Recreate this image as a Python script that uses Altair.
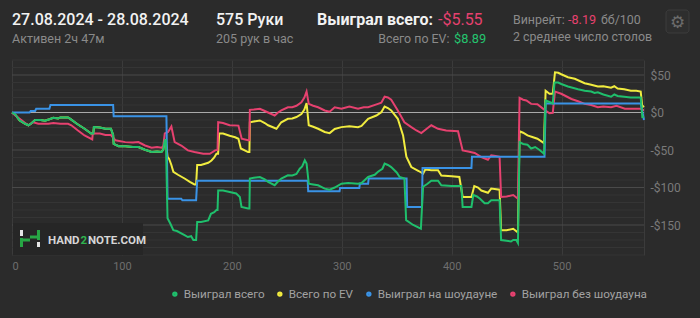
import altair as alt
import pandas as pd

# ---------------- data ----------------
series_names = ["Выиграл всего", "Всего по EV", "Выиграл на шоудауне", "Выиграл без шоудауна"]
series_colors = ["#1fbf6c", "#f1ec3f", "#3a93e6", "#e6416f"]

green_h = [0, 3, 7, 12, 15, 18, 21, 26, 30, 34, 37.6, 42, 44, 51, 53, 59, 66, 72, 74, 74.5, 80, 85, 90, 92, 92.5,
           97, 103, 110, 115, 121, 127, 132, 136, 137.6, 139, 140, 141.5, 144, 146.8, 150, 157, 160, 163, 165,
           167.5, 168.5, 172, 178.5, 181, 184, 186, 187, 187.6, 192, 198, 204, 207.3, 208.8, 214.8, 216, 216.4,
           220, 225.5, 230, 233, 239, 242, 245, 251, 255, 258.8, 261.8, 264, 266.4, 268, 270, 274, 278.5, 284.5,
           289, 293.6, 299.7, 305.8, 314.8, 318, 324, 330, 333, 337, 339, 342, 345, 350, 352.7, 357, 358.6, 365,
           372, 374, 378, 381.5, 387.6, 390.6, 400, 408.8, 410, 418, 419.7, 423, 425.8, 430, 433, 436, 443.6, 445,
           450, 454, 456, 458.8, 460.3, 461.8, 465, 469, 472.3, 476, 480, 484, 485.5, 489, 492, 493.6, 497, 499.7,
           505.8, 510, 515, 521, 527, 530, 533, 538, 545, 548, 551, 557, 563, 568, 572, 573.5, 575]
green_v = [0, -3, -10.6, -15, -17, -14, -10, -10, -11, -9, -7, -8, -6.5, -6.5, -8.5, -15, -21.7, -28, -28, -19.5,
           -20, -21.7, -21.7, -30, -41.7, -45, -45, -46, -46, -49.6, -52.7, -52, -52.7, -49.6, -37, -37, -141, -148,
           -157, -158, -163.5, -166, -165, -170, -170, -146, -146, -144, -135, -133, -130, -130, -104, -104, -106,
           -108, -112.6, -126, -128, -128, -88, -87, -86, -89, -92.6, -97, -92, -88, -83.8, -84, -82, -75, -72,
           -63.8, -68, -95, -96, -97, -101.5, -103, -100, -95, -94, -95, -94, -86, -83, -79, -75, -68, -70, -72.7,
           -80, -86, -88, -143.6, -150, -155, -99, -95, -91, -91, -97, -98, -98, -126, -126, -110, -112, -115, -121,
           -121, -117, -117, -170, -171, -172, -170, -170, -174, -39.5, -42, -43, -48, -46, -50, -55, 16, 14, 12, 40,
           40, 38, 34.6, 33, 31, 29, 28, 26, 27, 24, 21, 24, 22, 21, 20, 20, 20, -6, -5.55]

yellow_h = [0, 3, 7, 12, 15, 18, 21, 26, 30, 34, 37.6, 42, 44, 51, 53, 59, 66, 72, 74, 74.5, 80, 85, 90, 92, 92.5,
            97, 103, 110, 115, 121, 127, 132, 136, 137.6, 139, 140, 141.5, 143, 145, 146.8, 151, 157, 161.8, 166,
            167.5, 168.5, 172, 178.5, 181.5, 184, 186, 187.5, 188.5, 192, 198, 203, 206, 208.2, 214.8, 216, 216.4,
            220, 225.5, 230, 233, 240.6, 245, 251, 255, 258.8, 263.3, 266, 268, 270, 274, 278.5, 284.5, 289, 293.6,
            299.7, 307, 314.8, 318, 324, 331.5, 336, 339, 342, 345, 351, 355.8, 358.8, 363.3, 370, 374, 376, 381.5,
            387.6, 390.6, 400, 407, 410, 418, 420.6, 424, 427, 433, 436, 443.6, 445, 450, 456, 460.3, 461.8, 465,
            469, 474, 478, 484, 485.5, 489, 492, 494, 497, 499.7, 505.8, 512, 521, 527, 533, 538, 545, 548, 551, 557,
            563, 568, 572, 573.5, 575]
yellow_v = [0, -3, -10.6, -15, -17, -14, -10, -10, -11, -9, -7, -8, -6.5, -6.5, -8.5, -15, -21.7, -28, -28, -19.5,
            -20, -21.7, -21.7, -30, -41.7, -45, -45, -46, -46, -49.6, -52.7, -52, -52.7, -49.6, -37, -37, -59, -62,
            -70, -79, -83, -88, -92.6, -96, -96, -70, -70, -67, -64, -60, -55, -55, -28, -28, -31, -33, -35, -48,
            -52.7, -52.7, -13, -12, -10.6, -14, -17, -21.7, -13, -8.4, -8, -6, -2, 4, 12.4, -17, -19, -21.7, -26,
            -27.5, -22, -19.5, -18.5, -19.5, -18, -8.4, -4, 0.4, 8, 6, 2.7, -8.4, -30.6, -59, -72.7, -78, -81.6,
            -76, -77, -77, -84, -85, -86, -112.6, -112.6, -98, -100, -104, -107, -101.5, -103, -157, -157, -155,
            -160, -25, -27, -30.6, -33, -35, -40.8, 29, 25, 25, 53.6, 53, 51, 47, 45, 39, 37, 34.6, 35, 33, 35, 32,
            31, 29, 29, 28, 7, 8.89]

blue_h = [0, 16, 17, 21, 22, 34, 35, 92, 92.5, 140.5, 141.5, 154, 155, 167.5, 168.5, 269, 269.5, 298, 298.5, 316,
          316.5, 324, 324.5, 359, 359.5, 373, 373.5, 418, 418.5, 484.5, 485.5, 572, 575]
blue_v = [0, 0, 2, 2, 5, 5, 10, 10, -5, -5, -115, -115, -117, -117, -91, -91, -105, -105, -100.5, -100.5, -95, -95,
          -88, -88, -126, -126, -74, -74, -59, -59, 12, 12, -10]

pink_h = [0, 3, 7, 12, 15, 19.4, 24, 30, 33, 37.6, 44, 51, 54, 60, 66, 73, 73.5, 80, 85, 90, 94, 103, 110, 115, 121,
          127, 132, 136, 137.6, 139, 142, 145, 148, 154, 160, 166, 174, 180, 184.8, 187, 187.6, 192, 198, 206, 209,
          214.8, 216, 216.4, 220, 225.5, 230, 233, 239, 242, 245, 251, 255, 258.8, 263.3, 266, 268, 270, 274, 278.5,
          284.5, 289, 293.6, 299.7, 307, 314.8, 320, 324, 333, 336, 339, 342, 345, 351, 357, 363.3, 368, 372.4, 377,
          381.5, 387.6, 395, 405.8, 410, 415, 421, 427, 433, 436, 440, 443.6, 445, 450, 456, 460.3, 461.8, 465, 468,
          472.3, 478, 484.5, 489, 492, 494, 499.7, 505, 509, 515, 521, 527, 533, 538, 545, 550, 557.6, 565, 572,
          573.5, 575]
pink_v = [0, -4, -8.4, -14, -17, -13, -15, -15, -15, -14, -15, -15, -17, -24, -30.6, -36, -28, -28, -30, -30, -37,
          -39.5, -40, -39.5, -44, -47, -46, -47, -45, -28, -26, -18.6, -39.5, -44, -50.5, -52.7, -55, -55, -50.5, -50,
          -13, -14, -17, -17.5, -35, -37, -37, 3.5, 4, 5, 2, 0, -4, 0, 2.7, 7, 7, 9, 13.7, 20, 28, 11.5, 9, 7, 2.7,
          1, 7, 5, 8, 5, 7, 7, 11.5, 13, 21, 20, 17, 2.7, -13, -19.5, -24, -27.5, -22, -17, -21.7, -24, -25, -50.5,
          -52, -54, -59.4, -63, -57, -58, -59, -112.6, -112, -110, -115, 19.5, 17, 16, 11.5, 11, 3.5, -1, -0.5, 28,
          25, 21, 18, 15, 11.5, 10, 7, 8, 7, 9, 5, 5, 5, 3.5, 3.5]

x_ticks = [0, 100, 200, 300, 400, 500, 575]
y_ticks = [-150, -100, -50, 0, 50]
grid_major = [-150, -100, -50, 50]
grid_minor = [-190, -180, -170, -160, -140, -130, -120, -110, -90, -80, -70, -60, -40, -30, -20, -10,
              10, 20, 30, 40, 60, 70]

header = {
    "date": "27.08.2024 - 28.08.2024",
    "active": "Активен 2ч 47м",
    "hands": "575 Руки",
    "rate": "205 рук в час",
    "won_lbl": "Выиграл всего:",
    "won_val": "-$5.55",
    "ev_lbl": "Всего по EV:",
    "ev_val": "$8.89",
    "wr_lbl": "Винрейт:",
    "wr_val": "-8.19",
    "wr_unit": "бб/100",
    "tables": "2 среднее число столов",
    "brand_a": "HAND",
    "brand_b": "2",
    "brand_c": "NOTE.COM",
}

# ---------------- geometry ----------------
W, H = 632, 195
OX, OY = 12, 60
FONT = "Roboto"

xs = alt.Scale(domain=[0, 575], nice=False, zero=False)
ys = alt.Scale(domain=[-190, 70], nice=False, zero=False)
cs = alt.Scale(domain=series_names, range=series_colors)

X_AXIS = alt.Axis(values=x_ticks, labelExpr="datum.value == 575 ? '' : datum.label",
                  grid=True, gridColor="#3b3b3b", gridWidth=1, domain=False, ticks=False,
                  labelColor="#6e6e6e", labelFontSize=11, labelFont=FONT, labelPadding=5, title=None)
Y_AXIS = alt.Axis(values=y_ticks, orient="right", grid=False, domain=False, ticks=False,
                  labelExpr="datum.value < 0 ? '-$' + abs(datum.value) : '$' + datum.value",
                  labelColor="#7a7a7a", labelFontSize=12, labelFont=FONT, labelPadding=6, title=None)
LEGEND = alt.Legend(title=None, orient="none", legendX=157, legendY=228, direction="horizontal",
                    padding=0, symbolType="circle", symbolSize=9, symbolStrokeWidth=2.4, labelOffset=3,
                    columnPadding=8, labelColor="#a2a2a2", labelFontSize=11.7, labelFont=FONT)


def series_df(name, h, v):
    return pd.DataFrame({"hand": h, "value": v, "series": name})


def line_layer(name, h, v):
    return alt.Chart(series_df(name, h, v)).mark_line(strokeWidth=2, interpolate="linear").encode(
        x=alt.X("hand:Q", scale=xs, axis=X_AXIS),
        y=alt.Y("value:Q", scale=ys, axis=Y_AXIS),
        color=alt.Color("series:N", scale=cs, sort=series_names, legend=LEGEND),
    )


def grid_layer(vals, color, width=1):
    return alt.Chart(pd.DataFrame({"g": vals})).mark_rule(color=color, strokeWidth=width).encode(
        y=alt.Y("g:Q", scale=ys, axis=Y_AXIS))


def txt(s, x, y, size, color, weight="normal", align="left", font=FONT):
    return alt.Chart(pd.DataFrame({"t": [s]})).mark_text(
        align=align, baseline="alphabetic", fontSize=size, font=font, color=color, fontWeight=weight
    ).encode(x=alt.value(x - OX), y=alt.value(y - OY), text="t:N")


def deco_rule(x1, y1, x2, y2, color, width):
    return alt.Chart(pd.DataFrame({"d": [0]})).mark_rule(color=color, strokeWidth=width).encode(
        x=alt.value(x1 - OX), x2=alt.value(x2 - OX), y=alt.value(y1 - OY), y2=alt.value(y2 - OY))


grid = grid_layer(grid_minor, "#353535") + grid_layer(grid_major, "#4a4a4a")

watermark_bg = alt.Chart(pd.DataFrame({"d": [0]})).mark_rect(color="#262626").encode(
    x=alt.value(13 - OX), x2=alt.value(143 - OX), y=alt.value(223 - OY), y2=alt.value(255 - OY))

logo = (deco_rule(21.5, 230, 21.5, 236, "#e6e6e6", 3) +
        deco_rule(21.5, 238, 21.5, 247, "#27a744", 3) +
        deco_rule(21.5, 240, 30, 240, "#27a744", 3) +
        deco_rule(30, 237, 38.5, 237, "#27a744", 3) +
        deco_rule(38.5, 230, 38.5, 240, "#27a744", 3) +
        deco_rule(38.5, 242, 38.5, 247, "#e6e6e6", 3))

brand = (txt(header["brand_a"], 48, 244, 11.5, "#d6d6d6", "bold") +
         txt(header["brand_b"], 80.5, 244, 11.5, "#2fb34f", "bold") +
         txt(header["brand_c"], 88, 244, 11.5, "#d6d6d6", "bold"))

zero = grid_layer([0], "#a9a9a9", 1.2)

lines = (line_layer(series_names[1], yellow_h, yellow_v) +
         line_layer(series_names[3], pink_h, pink_v) +
         line_layer(series_names[2], blue_h, blue_v) +
         line_layer(series_names[0], green_h, green_v))

gear_box = alt.Chart(pd.DataFrame({"d": [0]})).mark_rect(
    fill="#2e2e2e", stroke="#3c3c3c", strokeWidth=1, cornerRadius=3).encode(
    x=alt.value(666 - OX), x2=alt.value(689 - OX), y=alt.value(10 - OY), y2=alt.value(33 - OY))
gear = txt("⚙", 677.5, 28, 17, "#6c6c6c", align="center", font="DejaVu Sans")

head = (txt(header["date"], 12, 25, 16, "#f2f2f2", 500) +
        txt(header["active"], 12, 43, 12.5, "#8a8a8a") +
        txt(header["hands"], 216, 25, 16, "#f2f2f2", 500) +
        txt(header["rate"], 216, 43, 12.5, "#8a8a8a") +
        txt(header["won_lbl"], 433, 25, 16, "#f2f2f2", "bold", align="right") +
        txt(header["won_val"], 438, 25, 16, "#e6416f") +
        txt(header["ev_lbl"], 449.5, 43, 12.4, "#8a8a8a", align="right") +
        txt(header["ev_val"], 454, 43, 12.8, "#25c46f") +
        txt(header["wr_lbl"], 513, 24, 12.4, "#8a8a8a") +
        txt(header["wr_val"], 568, 24, 12.6, "#e6416f") +
        txt(header["wr_unit"], 601, 24, 12.4, "#8a8a8a") +
        txt(header["tables"], 513, 41, 12.4, "#8a8a8a") +
        gear_box + gear)

chart = alt.layer(grid, watermark_bg, logo, brand, zero, lines, head).properties(
    width=W, height=H,
    padding={"left": OX, "top": OY, "right": 700 - OX - W, "bottom": 318 - OY - H},
    autosize=alt.AutoSizeParams(type="none"),
    background="#2b2b2b",
).configure_view(stroke=None)

chart.save("out.html", embed_options={"renderer": "svg", "actions": False})
